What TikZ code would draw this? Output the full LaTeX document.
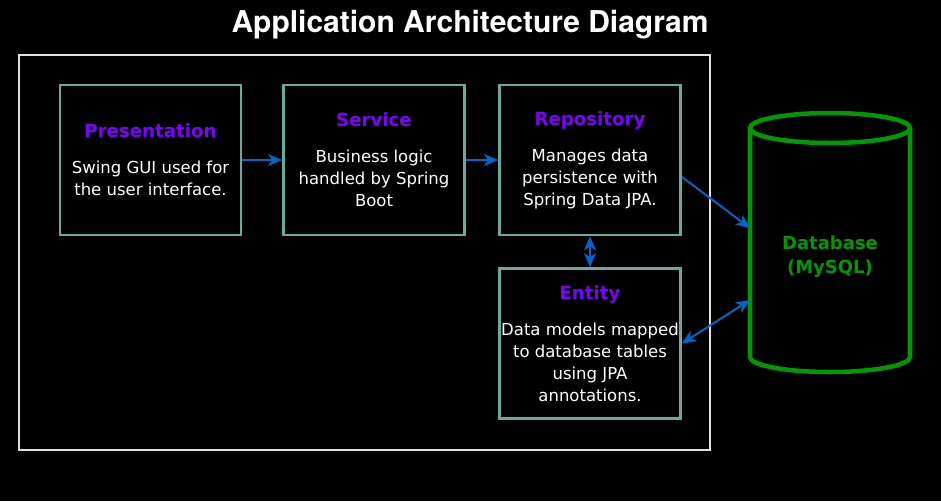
\documentclass[tikz,border=0pt]{standalone}
\usepackage{fontspec}
\setmainfont{DejaVu Sans}
\newfontfamily\titlefont{TeX Gyre Heros}
\usetikzlibrary{arrows.meta, calc}
\definecolor{boxteal}{HTML}{67AB9F}
\definecolor{hdrpurple}{HTML}{7F00FF}
\definecolor{flowblue}{HTML}{0066CC}
\definecolor{dbgreen}{HTML}{009900}
\newcommand{\layerhdr}[1]{{\fontsize{18.2}{22}\selectfont\bfseries\color{hdrpurple}#1}}
\tikzset{
	layerbox/.style={draw=boxteal, line width=2.8pt, fill=black, text=white, align=center,
		minimum width=181pt, minimum height=150pt, inner sep=0pt,
		font=\fontsize{16.5}{22}\selectfont},
	flow/.style={draw=flowblue, line width=2pt, -{Stealth[length=14pt,width=12pt,inset=4pt]}},
	flowboth/.style={flow, {Stealth[length=14pt,width=12pt,inset=4pt]}-{Stealth[length=14pt,width=12pt,inset=4pt]}}
}

\begin{document}
\begin{tikzpicture}[x=1pt, y=-1pt]
		\fill[black] (0,0) rectangle (941,501);
		\useasboundingbox (0,0) rectangle (941,501);
		
		\node[text=white] (title) at (470,25) {\titlefont\fontsize{30}{34}\selectfont\bfseries Application Architecture Diagram};
		
		\draw[draw=white!88!black, line width=2pt] (19,55) rectangle (710,450);
		
		\node[layerbox] (pres) at (150.5,160) {\layerhdr{Presentation}\\[14pt]Swing GUI used for\\the user interface.};
		\node[layerbox] (serv) at (374,160) {\layerhdr{Service}\\[14pt]Business logic\\handled by Spring\\Boot};
		\node[layerbox] (repo) at (590,160) {\layerhdr{Repository}\\[14pt]Manages data\\persistence with\\Spring Data JPA.};
		\node[layerbox] (ent) at (590,343.5) {\layerhdr{Entity}\\[14pt]Data models mapped\\to database tables\\using JPA\\annotations.};
		
		\draw[dbgreen, line width=4.5pt] (750,128) -- (750,357) arc[start angle=180, end angle=0, x radius=80, y radius=15] -- (910,128);
		\draw[dbgreen, line width=4.5pt] (830,128) ellipse[x radius=80, y radius=15];
		\node[text=dbgreen, align=center, font=\fontsize{18}{24}\selectfont\bfseries] (db) at (830,257) {Database\\(MySQL)};
		\coordinate (dbtop) at (750,228);
		\coordinate (dblow) at (750,300);
		
		\draw[flow] (pres) -- (serv);
		\draw[flow] (serv) -- (repo);
		\draw[flowboth] (repo) -- (ent);
		\draw[flow] ($(repo.east)+(0,17)$) -- (dbtop);
		\draw[flowboth] (ent.east) -- (dblow);
	\end{tikzpicture}
\end{document}
